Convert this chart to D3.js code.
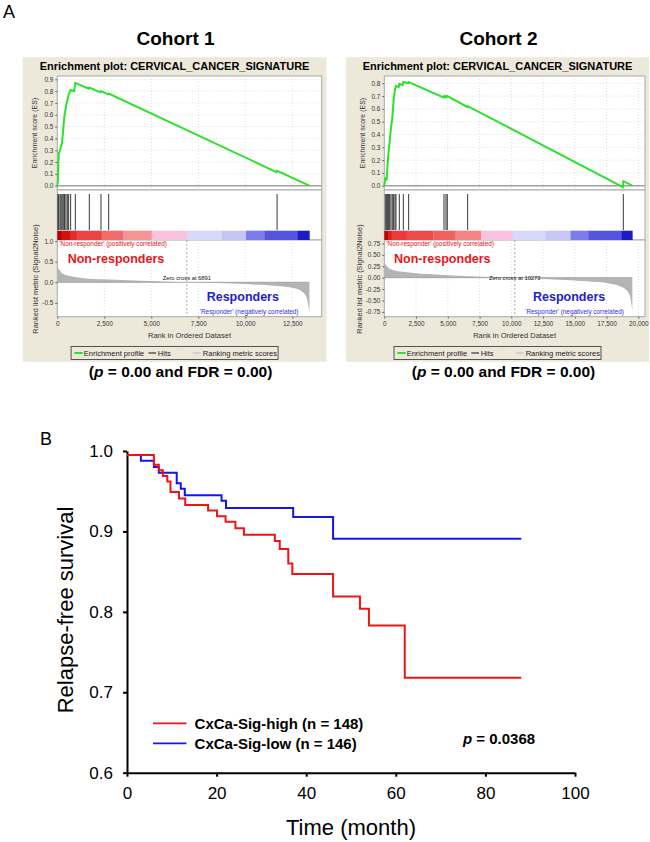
<!DOCTYPE html>
<html><head><meta charset="utf-8">
<script src="https://cdn.jsdelivr.net/npm/d3@7"></script>
<style>
body{margin:0;background:#fff}
svg{display:block}
text{font-family:"Liberation Sans",Arial,Helvetica,sans-serif}
</style>
</head><body>
<svg id="c" width="650" height="842"></svg>
<script>
// ---------------- DATA ----------------
const cohortTitles = ["Cohort 1", "Cohort 2"];
const geneSetName = "CERVICAL_CANCER_SIGNATURE";
const geneCounts = [13410, 19530];
const zeroCross = [6891, 10273];

// Cohort 1 running enrichment score
const es1Rank  = [0, 35, 71, 142, 195, 248, 302, 355, 390, 461, 532, 603, 710, 900, 958, 1670, 1703, 2290, 2324, 2700, 2732, 11660, 11691, 13410];
const es1Value = [0, 0.05, 0.27, 0.30, 0.33, 0.36, 0.45, 0.55, 0.60, 0.67, 0.72, 0.77, 0.81, 0.80, 0.87, 0.82, 0.83, 0.79, 0.80, 0.773, 0.78, 0.115, 0.125, 0];
const hits1 = [35, 71, 142, 195, 248, 302, 355, 390, 461, 532, 603, 710, 958, 1703, 2324, 2732, 11691];
const metric1Rank  = [0, 53, 142, 319, 674, 1384, 3158, 4932, 6891, 8480, 10254, 11673, 12560, 13000, 13270, 13410];
const metric1Value = [0.46, 0.35, 0.28, 0.20, 0.15, 0.10, 0.06, 0.03, 0, -0.02, -0.05, -0.09, -0.14, -0.22, -0.38, -0.75];
const heat1Breaks = [0, 231, 674, 1029, 2359, 3512, 5020, 6883, 8745, 10040, 11016, 12790, 13410];

// Cohort 2 running enrichment score
const es2Rank  = [0, 79, 184, 262, 341, 420, 525, 630, 735, 840, 919, 1130, 1181, 1440, 1496, 1880, 1916, 4660, 4699, 4820, 4856, 4930, 4961, 6540, 6563, 18790, 18821, 19530];
const es2Value = [0, 0.057, 0.05, 0.17, 0.27, 0.34, 0.45, 0.53, 0.67, 0.75, 0.78, 0.77, 0.795, 0.785, 0.81, 0.80, 0.81, 0.69, 0.70, 0.69, 0.70, 0.695, 0.70, 0.615, 0.622, -0.012, 0.035, 0];
const hits2 = [79, 184, 262, 341, 420, 525, 630, 735, 840, 919, 1181, 1496, 1916, 4699, 4856, 4961, 6563, 18821];
const metric2Rank  = [0, 131, 315, 709, 1759, 4121, 6746, 10273, 13309, 15934, 17771, 18821, 19346, 19530];
const metric2Value = [0.35, 0.28, 0.22, 0.17, 0.12, 0.07, 0.03, 0, -0.04, -0.08, -0.13, -0.22, -0.40, -0.72];
const heat2Breaks = [0, 300, 578, 1759, 3859, 5565, 7613, 10106, 12705, 14674, 16065, 18690, 19530];

const heatColors1 = ["#B40000","#D41212","#E42a2a","#EC4444","#F26a6a","#F59494","#F7C2DE","#D8D8F8","#C6C6F4","#7C7CEE","#5454E0","#1C1CC4"];
const heatColors2 = ["#C00000","#E01a1a","#EA3a3a","#EE4a4a","#F06262","#F48484","#F7C2DE","#D8D8F8","#C8C8F4","#7C7CEE","#5454E0","#1C1CC4"];

const esTicks1 = [0,0.1,0.2,0.3,0.4,0.5,0.6,0.7,0.8,0.9];
const esTicks2 = [0,0.1,0.2,0.3,0.4,0.5,0.6,0.7,0.8];
const metricTicks1 = [1.0,0.5,0,-0.5];
const metricTicks2 = [0.75,0.5,0.25,0,-0.25,-0.5,-0.75];
const rankTicks1 = [0,2500,5000,7500,10000,12500];
const rankTicks2 = [0,2500,5000,7500,10000,12500,15000,17500,20000];
const pText = ["0.00","0.00"];
const fdrText = ["0.00","0.00"];

// Kaplan-Meier (relapse-free survival)
const kmSeries = ["CxCa-Sig-high (n = 148)", "CxCa-Sig-low (n = 146)"];
const kmHighTime = [0, 6.0, 7.1, 8.0, 9.0, 9.7, 11.6, 13.0, 18.1, 20.1, 22.0, 24.2, 26.1, 33.0, 34.1, 36.0, 36.9, 46.0, 52.0, 54.0, 62.0, 88.0];
const kmHighSurv = [0.995, 0.983, 0.976, 0.969, 0.962, 0.949, 0.941, 0.933, 0.926, 0.919, 0.912, 0.904, 0.896, 0.888, 0.878, 0.860, 0.847, 0.819, 0.804, 0.783, 0.718, 0.718];
const kmLowTime = [0, 3.1, 6.0, 7.1, 11.1, 12.0, 12.9, 21.1, 22.1, 37.1, 46.0, 88.0];
const kmLowSurv = [0.995, 0.988, 0.980, 0.973, 0.960, 0.953, 0.945, 0.938, 0.929, 0.918, 0.891, 0.891];
const timeTicks = [0,20,40,60,80,100];
const survTicks = [0.6,0.7,0.8,0.9,1.0];
const kmPValue = "0.0368";

// ---------------- DRAW ----------------
const svg = d3.select("#c");
const BEIGE = "#ECE9DA";

function T(parent, x, y, s, size, o = {}) {
  const t = parent.append("text").attr("x", x).attr("y", y).text(s)
    .attr("font-size", size)
    .attr("fill", o.fill || "#000")
    .attr("text-anchor", o.anchor || "start");
  if (o.bold) t.attr("font-weight", "bold");
  if (o.rotate) t.attr("transform", `rotate(-90,${x},${y})`);
  return t;
}

// Panel labels
T(svg, 3, 18.3, "A", 18);
T(svg, 40, 445, "B", 18);

const G = {top: 57.3, bottom: 361.7, esTop: 76, esBot: 190, hitTop: 194, hitBot: 230, barTop: 230.7, metTop: 240, metBot: 316.7};

const panels = [
  {x0: 22.7, x1: 326.5, left: 57.3, right: 321.7, k: 0.0188, n: geneCounts[0], zc: zeroCross[0],
   esR: es1Rank, esV: es1Value, hits: hits1, mR: metric1Rank, mV: metric1Value, hb: heat1Breaks, hc: heatColors1,
   esDom: [0, 0.9], esRange: [185.7, 79.3], esTicks: esTicks1,
   mDom: [0, 0.5], mRange: [282.3, 261.7], mTicks: metricTicks1, mDec: 1, rTicks: rankTicks1,
   esLabX: 35, mLabX: 35, tickX: 54,
   nrX: 67.7, rX: 206.7, title: cohortTitles[0], pi: 0},
  {x0: 346, x1: 649, left: 384.3, right: 645, k: 0.0127, n: geneCounts[1], zc: zeroCross[1],
   esR: es2Rank, esV: es2Value, hits: hits2, mR: metric2Rank, mV: metric2Value, hb: heat2Breaks, hc: heatColors2,
   esDom: [0, 0.8], esRange: [185.7, 83.3], esTicks: esTicks2,
   mDom: [0, 0.75], mRange: [277.7, 243.5], mTicks: metricTicks2, mDec: 2, rTicks: rankTicks2,
   esLabX: 362.3, mLabX: 359.3, tickX: 380.5,
   nrX: 394, rX: 533, title: cohortTitles[1], pi: 1}
];

panels.forEach(p => {
  const g = svg.append("g");
  const cx = (p.x0 + p.x1) / 2;
  T(g, cx + 1, 45, p.title, 19, {bold: true, anchor: "middle"});
  g.append("rect").attr("x", p.x0).attr("y", G.top).attr("width", p.x1 - p.x0).attr("height", G.bottom - G.top).attr("fill", BEIGE);
  T(g, cx, 70, "Enrichment plot: " + geneSetName, 11, {bold: true, anchor: "middle"});

  const maxRank = (p.right - p.left) / p.k;
  const x = d3.scaleLinear([0, maxRank], [p.left, p.right]);
  const yE = d3.scaleLinear(p.esDom, p.esRange);
  const yM = d3.scaleLinear(p.mDom, p.mRange);
  const W = p.right - p.left;

  // panel backgrounds
  [[G.esTop, G.esBot], [G.esBot, G.metTop], [G.metTop, G.metBot]].forEach(([a, b]) => {
    g.append("rect").attr("x", p.left).attr("y", a).attr("width", W).attr("height", b - a)
      .attr("fill", "#fff").attr("stroke", "#A8A8A8").attr("stroke-width", 1);
  });

  // grids
  const grid = g.append("g").attr("stroke", "#D6D6D6").attr("stroke-dasharray", "1,2").attr("stroke-width", 0.8);
  p.rTicks.filter(d => d > 0).forEach(d => {
    grid.append("line").attr("x1", x(d)).attr("x2", x(d)).attr("y1", G.esTop).attr("y2", G.esBot);
    grid.append("line").attr("x1", x(d)).attr("x2", x(d)).attr("y1", G.metTop).attr("y2", G.metBot);
  });
  p.esTicks.filter(d => d > 0).forEach(d => {
    grid.append("line").attr("x1", p.left).attr("x2", p.right).attr("y1", yE(d)).attr("y2", yE(d));
  });

  // zero line of ES
  g.append("line").attr("x1", p.left).attr("x2", p.right).attr("y1", yE(0)).attr("y2", yE(0))
    .attr("stroke", "#A0A0A0").attr("stroke-width", 1.6);

  // ES curve
  const esPts = p.esR.map((r, i) => [r, p.esV[i]]);
  g.append("path").datum(esPts)
    .attr("d", d3.line().x(d => x(d[0])).y(d => yE(d[1])))
    .attr("fill", "none").attr("stroke", "#2EE02E").attr("stroke-width", 2);

  // hits
  g.append("g").selectAll("line").data(p.hits).join("line")
    .attr("x1", d => x(d)).attr("x2", d => x(d)).attr("y1", G.hitTop).attr("y2", G.hitBot)
    .attr("stroke", "#222").attr("stroke-width", 0.9);

  // heat bar
  const segs = p.hc.map((c, i) => ({a: p.hb[i], b: p.hb[i + 1], c}));
  g.append("g").selectAll("rect").data(segs).join("rect")
    .attr("x", d => x(d.a)).attr("width", d => x(d.b) - x(d.a) + 0.3)
    .attr("y", G.barTop).attr("height", G.metTop - G.barTop).attr("fill", d => d.c);

  // metric area
  const mPts = p.mR.map((r, i) => [r, p.mV[i]]);
  g.append("path").datum(mPts)
    .attr("d", d3.area().curve(d3.curveMonotoneX).x(d => x(d[0])).y0(yM(0)).y1(d => yM(d[1])))
    .attr("fill", "#B4B4B4");
  g.append("line").attr("x1", x(0)).attr("x2", x(p.n)).attr("y1", yM(0)).attr("y2", yM(0))
    .attr("stroke", "#9A9A9A").attr("stroke-width", 0.8);

  // zero-cross dashed line
  g.append("line").attr("x1", x(p.zc)).attr("x2", x(p.zc)).attr("y1", G.metTop).attr("y2", G.metBot)
    .attr("stroke", "#9A9A9A").attr("stroke-dasharray", "2,2").attr("stroke-width", 0.8);

  // axes
  const styleAx = a => {
    a.select(".domain").remove();
    a.selectAll("line").attr("stroke", "#666");
    a.selectAll("text").attr("fill", "#333").attr("font-size", 6.4)
      .attr("font-family", '"Liberation Sans",Arial,sans-serif');
  };
  g.append("g").attr("transform", `translate(${p.left},0)`)
    .call(d3.axisLeft(yE).tickValues(p.esTicks).tickFormat(d => d.toFixed(1)).tickSize(2).tickPadding(2)).call(styleAx);
  g.append("g").attr("transform", `translate(${p.left},0)`)
    .call(d3.axisLeft(yM).tickValues(p.mTicks).tickFormat(d => d.toFixed(p.mDec)).tickSize(2).tickPadding(2)).call(styleAx);
  g.append("g").attr("transform", `translate(0,${G.metBot})`)
    .call(d3.axisBottom(x).tickValues(p.rTicks).tickFormat(d3.format(",")).tickSize(2).tickPadding(3)).call(styleAx);

  // axis titles
  T(g, p.esLabX, (G.esTop + G.esBot) / 2, "Enrichment score (ES)", 7, {anchor: "middle", rotate: true, fill: "#333"})
    .attr("dy", "0.35em");
  T(g, p.mLabX, 279, "Ranked list metric (Signal2Noise)", 7.4, {anchor: "middle", rotate: true, fill: "#333"})
    .attr("dy", "0.35em");
  T(g, (p.left + p.right) / 2, 337.5, "Rank in Ordered Dataset", 7.5, {anchor: "middle", fill: "#333"});

  // annotations
  T(g, p.left + 2, 245.5, "'Non-responder' (positively correlated)", 6.4, {fill: "#E01010"});
  T(g, p.nrX, 262.8, "Non-responders", 12.5, {bold: true, fill: "#E8141C"});
  T(g, x(p.zc), 280.3, "Zero cross at " + p.zc, 5.8, {anchor: "middle", fill: "#111"});
  T(g, p.rX, 301, "Responders", 12.5, {bold: true, fill: "#2222CC"});
  T(g, (x(p.zc) + x(p.n)) / 2 + 1, 313.8, "'Responder' (negatively correlated)", 6.4, {anchor: "middle", fill: "#3030E0"});

  // legend
  const lx = cx - 103.5, ly = 346.5;
  g.append("rect").attr("x", lx).attr("y", ly).attr("width", 207).attr("height", 13)
    .attr("fill", BEIGE).attr("stroke", "#444").attr("stroke-width", 0.9);
  const items = [
    {x1: 3.3, x2: 11.7, col: "#2EE02E", w: 2, tx: 12.7, label: "Enrichment profile"},
    {x1: 77.3, x2: 85, col: "#333", w: 1.2, tx: 86.7, label: "Hits"},
    {x1: 121.7, x2: 129.3, col: "#C8C8C8", w: 1.5, tx: 131.7, label: "Ranking metric scores"}
  ];
  items.forEach(it => {
    g.append("line").attr("x1", lx + it.x1).attr("x2", lx + it.x2).attr("y1", ly + 6.5).attr("y2", ly + 6.5)
      .attr("stroke", it.col).attr("stroke-width", it.w);
    T(g, lx + it.tx, ly + 9.2, it.label, 7.5, {fill: "#222"});
  });
  g.append("line").attr("x1", lx + 105).attr("x2", lx + 111.7).attr("y1", ly + 2.5).attr("y2", ly + 2.5)
    .attr("stroke", "#DADADA").attr("stroke-width", 1);

  // statistics text
  const st = T(g, cx + 6, 377, "", 15.5, {bold: true, anchor: "middle"});
  st.append("tspan").text("(");
  st.append("tspan").attr("font-style", "italic").text("p");
  st.append("tspan").text(" = " + pText[p.pi] + " and FDR = " + fdrText[p.pi] + ")");
});

// ---------------- Kaplan-Meier ----------------
const kx = d3.scaleLinear([0, 100], [127, 575]);
const ky = d3.scaleLinear([0.6, 1.0], [772.7, 451]);
const km = svg.append("g");

const axStyle = (a, fs) => {
  a.select(".domain").attr("stroke", "#000").attr("stroke-width", 2);
  a.selectAll(".tick line").attr("stroke", "#000").attr("stroke-width", 2);
  a.selectAll("text").attr("font-size", fs).attr("fill", "#000")
    .attr("font-family", '"Liberation Sans",Arial,sans-serif');
};
km.append("g").attr("transform", "translate(0,772.7)")
  .call(d3.axisBottom(kx).tickValues(timeTicks).tickSize(4).tickPadding(10).tickSizeOuter(0))
  .call(a => axStyle(a, 17));
km.append("g").attr("transform", "translate(127,0)")
  .call(d3.axisLeft(ky).tickValues(survTicks).tickFormat(d3.format(".1f")).tickSize(4).tickPadding(10).tickSizeOuter(0))
  .call(a => axStyle(a, 17));

const step = d3.line().curve(d3.curveStepAfter).x(d => kx(d[0])).y(d => ky(d[1]));
km.append("path").datum(kmLowTime.map((t, i) => [t, kmLowSurv[i]]))
  .attr("d", step).attr("fill", "none").attr("stroke", "#1414EE").attr("stroke-width", 2);
km.append("path").datum(kmHighTime.map((t, i) => [t, kmHighSurv[i]]))
  .attr("d", step).attr("fill", "none").attr("stroke", "#EE1414").attr("stroke-width", 2);

T(km, 73, 610, "Relapse-free survival", 22, {anchor: "middle", rotate: true});
T(km, 351, 835, "Time (month)", 22, {anchor: "middle"});

// legend
[["#EE1414", 723.3], ["#1414EE", 743.3]].forEach(([c, y], i) => {
  km.append("line").attr("x1", 153).attr("x2", 186.4).attr("y1", y).attr("y2", y).attr("stroke", c).attr("stroke-width", 1.8);
  T(km, 194.6, y + 5.3, kmSeries[i], 15, {bold: true});
});
const pt = T(km, 463, 743.5, "", 15, {bold: true});
pt.append("tspan").attr("font-style", "italic").text("p");
pt.append("tspan").text(" = " + kmPValue);
</script>
</body></html>
